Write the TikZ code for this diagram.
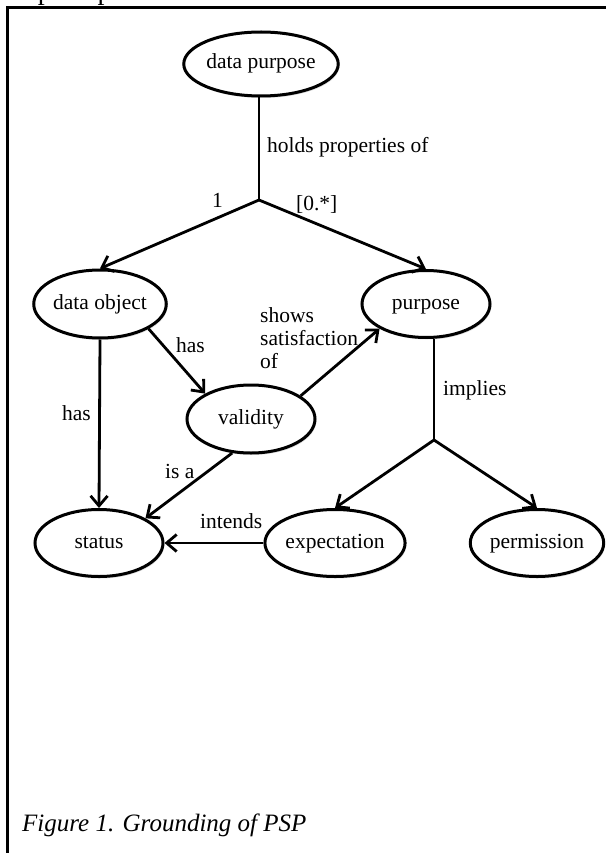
\documentclass[tikz,border=0pt]{standalone}
\usepackage{fontspec}
\setmainfont{Liberation Serif}
\usetikzlibrary{shapes.geometric,arrows.meta,shadows}
\begin{document}
\begin{tikzpicture}[x=1pt,y=-1pt,
  concept/.style={ellipse,draw,line width=3pt,minimum width=128pt,minimum height=67pt,inner sep=0pt,
    font=\fontsize{21.5}{23}\selectfont,text height=14.7pt,text depth=4.7pt,
    drop shadow={shadow xshift=1.2pt,shadow yshift=-2pt,opacity=0.25,fill=gray}, fill=white},
  link/.style={line width=2.8pt},
  arr/.style={link,-{Straight Barb[length=10pt,width=17pt]}},
  lab/.style={font=\fontsize{21.5}{23}\selectfont,inner sep=0pt,anchor=base west},
  frame/.style={line width=3pt}]
\useasboundingbox (0,0) rectangle (606,853);
\clip (0,0) rectangle (606,853);
% page fragments
\node[anchor=base west,inner sep=0pt,font=\fontsize{28}{30}\selectfont] (toptext) at (8,0) {implies permissions.};
\draw[frame] (7.5,853) -- (7.5,7.7) -- (606,7.7);
\node[anchor=base west,inner sep=0pt,font=\itshape\fontsize{25}{27}\selectfont] (caption) at (22,831) {Figure 1. Grounding of PSP};
% concepts
\node[concept,minimum width=136pt,minimum height=64pt] (dp) at (261,64) {data purpose};
\node[concept,minimum width=130pt,minimum height=68pt] (dobj) at (100,304) {data object};
\node[concept,minimum width=128pt,minimum height=67pt] (purp) at (426,304) {purpose};
\node[concept,minimum width=128pt,minimum height=68pt] (val) at (251,419) {validity};
\node[concept,minimum width=128pt,minimum height=67pt] (stat) at (99,543) {status};
\node[concept,minimum width=127pt,minimum height=67pt] (expc) at (335,543) {expectation};
\node[concept,minimum width=130pt,minimum height=67pt] (perm) at (537,543) {permission};
% junctions
\coordinate (j1) at (259,200);
\coordinate (j2) at (434,440);
% connectors
\draw[link] (dp.south -| j1) -- (j1);
\draw[arr] (j1) -- (dobj.north);
\draw[arr] (j1) -- (purp.north);
\draw[arr] (dobj.333) -- (val.151);
\draw[arr] (val.25) -- (purp.208);
\draw[arr] (dobj.south) -- (stat.north);
\draw[arr] (val.241) -- (stat.28);
\draw[link] (purp.south -| j2) -- (j2);
\draw[arr] (j2) -- (expc.north);
\draw[arr] (j2) -- (perm.north);
\draw[arr] (expc.west) -- (stat.east);
% labels
\node[lab] (lhold) at (267,153) {holds properties of};
\node[lab] (lone) at (212,207) {1};
\node[lab] (lmany) at (296,210) {[0.*]};
\node[lab] (lhas1) at (176,352) {has};
\node[lab,anchor=north west,align=left] (lshow) at (260,307.5) {shows\\satisfaction\\of};
\node[lab] (lhas2) at (62,420) {has};
\node[lab] (lisa) at (165,478) {is a};
\node[lab] (lint) at (200,528) {intends};
\node[lab] (limp) at (443,395) {implies};
\end{tikzpicture}
\end{document}
